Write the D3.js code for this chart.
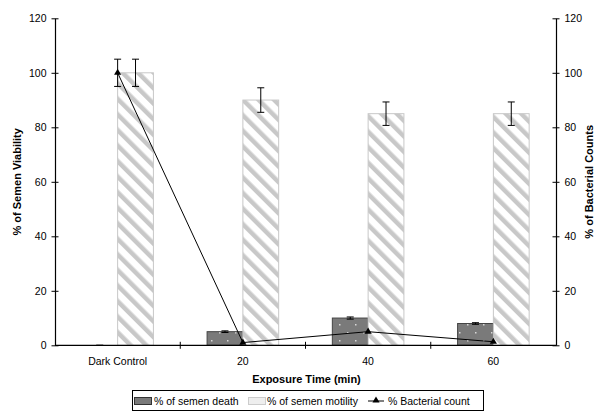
<!DOCTYPE html>
<html>
<head>
<meta charset="utf-8">
<script src="https://cdn.jsdelivr.net/npm/d3@7"></script>
<style>
  body { margin: 0; background: #fff; }
  svg { display: block; font-family: "Liberation Sans", Arial, sans-serif; }
</style>
</head>
<body>
<svg id="chart" width="597" height="412"></svg>
<script>
// Exposure categories
const categories = ["Dark Control", "20", "40", "60"];
// % of semen death (bars) with error
const deathValues = [0, 5, 10, 8];
const deathErrors = [0, 0.3, 0.4, 0.3];
// % of semen motility (bars) with error
const motilityValues = [100, 90, 85, 85];
const motilityErrors = [5, 4.5, 4.3, 4.3];
// % bacterial count (line, right axis) with error
const bacterialValues = [100, 1, 5, 1.3];
const bacterialErrors = [5, 0, 0, 0];
// Axis ticks
const yTicks = [0, 20, 40, 60, 80, 100, 120];

const svg = d3.select("#chart");
const margin = { left: 55, right: 41, top: 18.3, bottom: 66.7 };
const W = 597, H = 412;
const plotL = margin.left, plotR = W - margin.right;
const plotT = margin.top, plotB = H - margin.bottom;

const x = d3.scaleBand().domain(categories).range([plotL, plotR]).paddingInner(0).paddingOuter(0);
const xInner = d3.scaleBand().domain(["death", "motility"]).range([0, x.bandwidth()]).paddingInner(0).paddingOuter(0.75);
const y = d3.scaleLinear().domain([0, 120]).range([plotB, plotT]);
const yR = d3.scaleLinear().domain([0, 120]).range([plotB, plotT]);

// Patterns
const defs = svg.append("defs");
const stripe = defs.append("pattern")
  .attr("id", "stripes").attr("patternUnits", "userSpaceOnUse")
  .attr("width", 11).attr("height", 11)
  .attr("patternTransform", "rotate(-45)");
stripe.append("rect").attr("width", 11).attr("height", 11).attr("fill", "#fff");
stripe.append("rect").attr("x", 0).attr("y", 0).attr("width", 4.5).attr("height", 11).attr("fill", "#c8c8c8");

const dots = defs.append("pattern")
  .attr("id", "dots").attr("patternUnits", "userSpaceOnUse")
  .attr("width", 16).attr("height", 16);
dots.append("rect").attr("width", 16).attr("height", 16).attr("fill", "#7a7a7a");
dots.append("rect").attr("x", 3).attr("y", 4).attr("width", 1.5).attr("height", 1.5).attr("fill", "#d8d8d8");
dots.append("rect").attr("x", 11).attr("y", 12).attr("width", 1.5).attr("height", 1.5).attr("fill", "#d8d8d8");

// Bars
const rows = categories.map((c, i) => ({
  cat: c, death: deathValues[i], deathErr: deathErrors[i],
  mot: motilityValues[i], motErr: motilityErrors[i],
  bac: bacterialValues[i], bacErr: bacterialErrors[i]
}));

const bw = xInner.bandwidth();
const g = svg.append("g");

g.selectAll("rect.death").data(rows.filter(d => d.death > 0)).join("rect")
  .attr("class", "death")
  .attr("x", d => x(d.cat) + xInner("death"))
  .attr("y", d => y(d.death))
  .attr("width", bw)
  .attr("height", d => y(0) - y(d.death))
  .attr("fill", "url(#dots)")
  .attr("stroke", "#444").attr("stroke-width", 1);

g.selectAll("rect.mot").data(rows).join("rect")
  .attr("class", "mot")
  .attr("x", d => x(d.cat) + xInner("motility"))
  .attr("y", d => y(d.mot))
  .attr("width", bw)
  .attr("height", d => y(0) - y(d.mot))
  .attr("fill", "url(#stripes)")
  .attr("stroke", "#c8c8c8").attr("stroke-width", 1);

// Error bars
function errorBar(sel, cx, v, e, scale) {
  const top = scale(v + e), bot = scale(v - e);
  sel.append("line").attr("x1", cx).attr("x2", cx).attr("y1", top).attr("y2", bot)
    .attr("stroke", "#000").attr("stroke-width", 1);
  [top, bot].forEach(yy => sel.append("line")
    .attr("x1", cx - 3.5).attr("x2", cx + 3.5).attr("y1", yy).attr("y2", yy)
    .attr("stroke", "#000").attr("stroke-width", 1));
}
const eg = svg.append("g");
rows.forEach(d => {
  errorBar(eg, x(d.cat) + xInner("death") + bw / 2, d.death, d.deathErr, y);
  errorBar(eg, x(d.cat) + xInner("motility") + bw / 2, d.mot, d.motErr, y);
  if (d.bacErr > 0) errorBar(eg, x(d.cat) + x.bandwidth() / 2, d.bac, d.bacErr, yR);
});

// Line for bacterial count
const lx = d => x(d.cat) + x.bandwidth() / 2;
svg.append("path").datum(rows)
  .attr("d", d3.line().x(lx).y(d => yR(d.bac)))
  .attr("fill", "none").attr("stroke", "#000").attr("stroke-width", 1);
const tri = d3.symbol().type(d3.symbolTriangle).size(22);
svg.selectAll("path.mk").data(rows).join("path")
  .attr("class", "mk")
  .attr("d", tri)
  .attr("transform", d => `translate(${lx(d)},${yR(d.bac)})`)
  .attr("fill", "#000");

// Axes
const axisStyle = sel => {
  sel.selectAll("path.domain").attr("stroke", "#000").attr("stroke-width", 1.2);
  sel.selectAll(".tick line").attr("stroke", "#000");
  sel.selectAll(".tick text").attr("font-size", 10.5).attr("fill", "#000")
    .attr("font-family", "Liberation Sans, Arial, sans-serif");
};

const yAxisL = svg.append("g").attr("transform", `translate(${plotL},0)`)
  .call(d3.axisLeft(y).tickValues(yTicks).tickSize(3.5).tickPadding(5).tickSizeOuter(0));
yAxisL.selectAll(".tick line").attr("x2", 3.5).attr("x1", -3.5);
axisStyle(yAxisL);

const yAxisR = svg.append("g").attr("transform", `translate(${plotR},0)`)
  .call(d3.axisRight(yR).tickValues(yTicks).tickSize(3.5).tickPadding(5).tickSizeOuter(0));
yAxisR.selectAll(".tick line").attr("x1", -3.5).attr("x2", 3.5);
axisStyle(yAxisR);

const xAxis = svg.append("g").attr("transform", `translate(0,${plotB})`)
  .call(d3.axisBottom(x).tickSize(0).tickPadding(12).tickSizeOuter(0));
xAxis.select("path.domain").attr("d", `M${plotL},0H${plotR}`);
axisStyle(xAxis);
// Category boundary ticks crossing the axis
xAxis.selectAll("line.bound").data(categories.slice(1)).join("line")
  .attr("class", "bound")
  .attr("x1", d => x(d)).attr("x2", d => x(d))
  .attr("y1", -3.5).attr("y2", 3.5).attr("stroke", "#000");

// Axis titles
svg.append("text").attr("x", (plotL + plotR) / 2 + 1).attr("y", 383)
  .attr("text-anchor", "middle").attr("font-size", 11).attr("font-weight", "bold")
  .text("Exposure Time (min)");
svg.append("text")
  .attr("transform", `translate(21,${(plotT + plotB) / 2}) rotate(-90)`)
  .attr("text-anchor", "middle").attr("font-size", 11).attr("font-weight", "bold")
  .text("% of Semen Viability");
svg.append("text")
  .attr("transform", `translate(593,${(plotT + plotB) / 2}) rotate(-90)`)
  .attr("text-anchor", "middle").attr("font-size", 11).attr("font-weight", "bold")
  .text("% of Bacterial Counts");

// Legend
const lg = svg.append("g");
lg.append("rect").attr("x", 132.5).attr("y", 390.5).attr("width", 351).attr("height", 20)
  .attr("fill", "#fff").attr("stroke", "#000").attr("stroke-width", 1);
lg.append("rect").attr("x", 134.5).attr("y", 397.5).attr("width", 17).attr("height", 7)
  .attr("fill", "#7a7a7a").attr("stroke", "#333");
lg.append("text").attr("x", 154).attr("y", 404.5).attr("font-size", 10.5).text("% of semen death");
lg.append("rect").attr("x", 248.5).attr("y", 397.5).attr("width", 17).attr("height", 7)
  .attr("fill", "#eee").attr("stroke", "#ccc");
lg.append("text").attr("x", 267).attr("y", 404.5).attr("font-size", 10.5).text("% of semen motility");
lg.append("line").attr("x1", 368).attr("x2", 384).attr("y1", 401).attr("y2", 401)
  .attr("stroke", "#000");
lg.append("path").attr("d", tri).attr("transform", "translate(376,400.5)").attr("fill", "#000");
lg.append("text").attr("x", 388).attr("y", 404.5).attr("font-size", 10.5).text("% Bacterial count");
</script>
</body>
</html>
